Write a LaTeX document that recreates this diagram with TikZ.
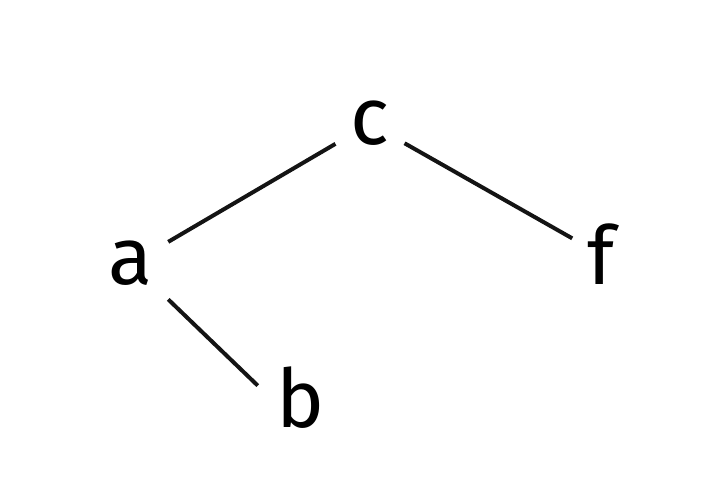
\documentclass[tikz,border=0pt]{standalone}
\usepackage{fontspec}
\setmainfont{Fira Sans}
\begin{document}
\begin{tikzpicture}[x=1pt,y=1pt,
  lbl/.style={anchor=base,inner sep=15pt,font=\fontsize{81}{86}\selectfont},
  edge/.style={line width=4pt,black!92}]
\useasboundingbox (0,0) rectangle (704,498);
\node[lbl] (c) at (370,353) {c};
\node[lbl] (a) at (131,213) {a};
\node[lbl] (f) at (601,213) {f};
\node[lbl,inner sep=6pt] (b) at (301,70) {b};
\draw[edge] (c) -- (a);
\draw[edge] (c) -- (f);
\draw[edge,shorten >=18pt] (a) -- (b.west);
\end{tikzpicture}
\end{document}
